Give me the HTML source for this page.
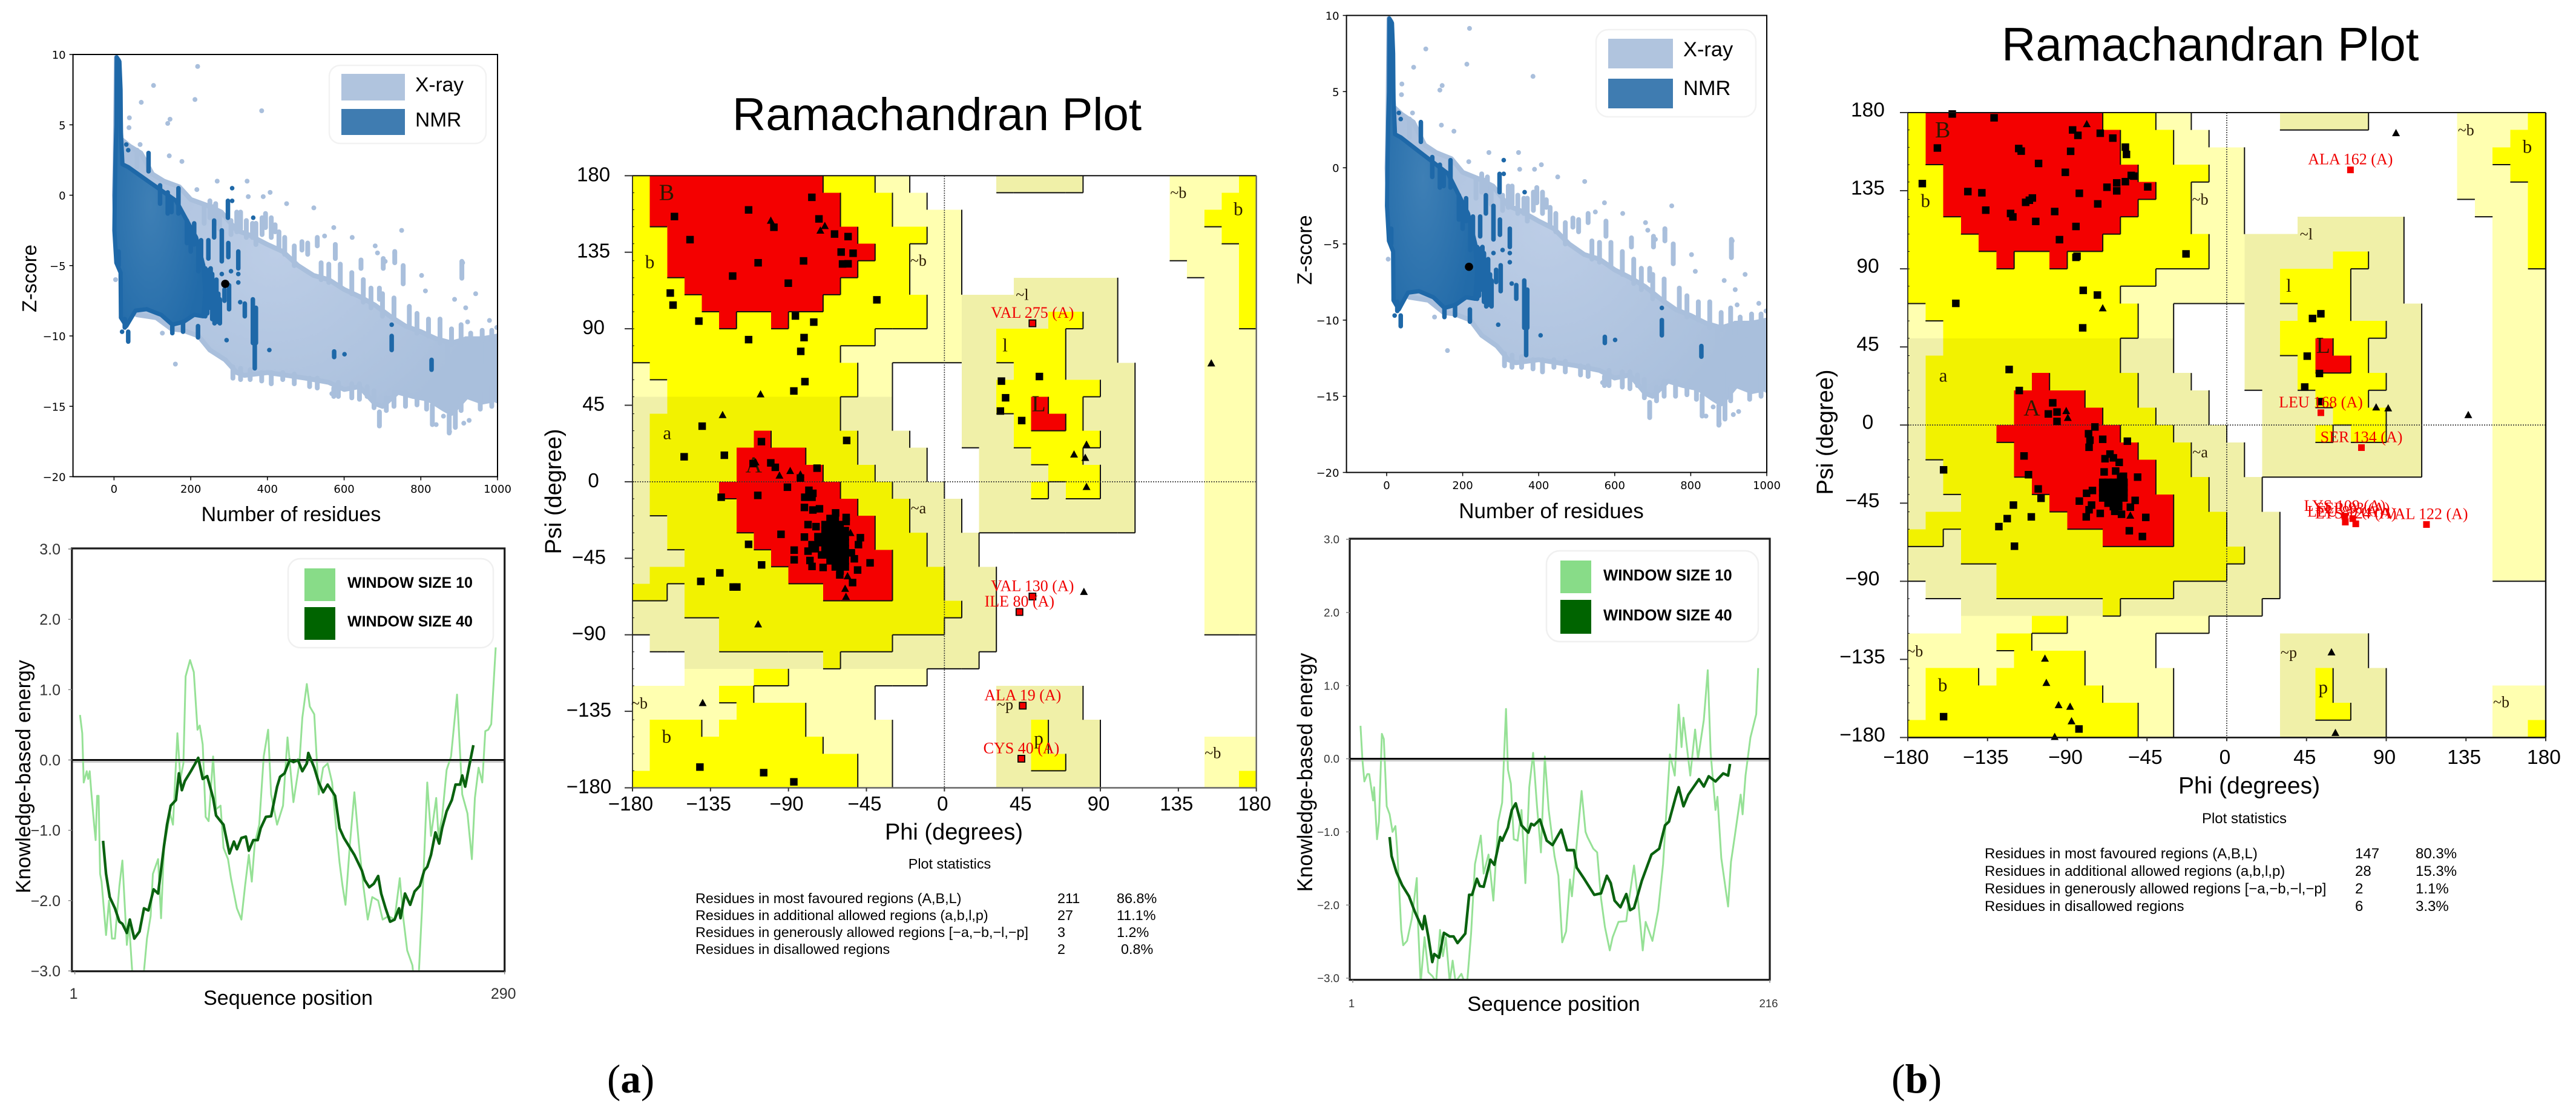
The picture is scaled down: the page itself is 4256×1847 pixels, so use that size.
<!DOCTYPE html>
<html lang="en">
<head>
<meta charset="utf-8">
<title>Z-score, energy and Ramachandran plots</title>
<style>
html,body{margin:0;padding:0;background:#fff;width:4256px;height:1847px;overflow:hidden}
svg{display:block}
text{font-family:"Liberation Sans",Arial,sans-serif;fill:#000}
.tick-dv{font-family:"DejaVu Sans",sans-serif;font-size:18px}
.serif{font-family:"Liberation Serif",serif}
.leg{font-weight:bold}
</style>
</head>
<body>
<svg id="figure" xmlns="http://www.w3.org/2000/svg" width="4256" height="1847" viewBox="0 0 4256 1847">
  <rect width="4256" height="1847" fill="#fff"/>

  <g id="scatterA"></g>
  <text x="481" y="861" font-size="34" text-anchor="middle">Number of residues</text>
  <text transform="translate(60 460) rotate(-90)" font-size="33" text-anchor="middle">Z-score</text>
  <g>
    <rect x="544" y="108" width="259" height="129" rx="18" fill="#fff" stroke="#f2f2f2" stroke-width="2.5"/>
    <rect x="564" y="122" width="105" height="44" fill="#b0c4de"/>
    <rect x="564" y="180" width="105" height="43" fill="#3f7cb1"/>
    <text x="686" y="151" font-size="33.5">X-ray</text>
    <text x="686" y="209" font-size="33.5">NMR</text>
  </g>

  <g id="energyA"></g>
  <text x="476" y="1660" font-size="34" text-anchor="middle">Sequence position</text>
  <text transform="translate(50 1283) rotate(-90)" font-size="34" text-anchor="middle">Knowledge-based energy</text>
  <g>
    <rect x="476" y="923" width="339" height="147" rx="20" fill="#fff" stroke="#f0f0f0" stroke-width="2.5"/>
    <rect x="503" y="939" width="51" height="54" fill="#88dc88"/>
    <rect x="503" y="1003" width="51" height="54" fill="#006400"/>
    <text class="leg" x="574" y="971" font-size="25">WINDOW SIZE 10</text>
    <text class="leg" x="574" y="1035" font-size="25">WINDOW SIZE 40</text>
  </g>

  <text x="1210" y="215" font-size="76.5">Ramachandran Plot</text>
  <g id="ramaA"></g>
  <text x="1576" y="1387" font-size="38" text-anchor="middle">Phi (degrees)</text>
  <text transform="translate(927 812) rotate(-90)" font-size="38" text-anchor="middle">Psi (degree)</text>
  <g>
    <text x="1569" y="1435" font-size="23.4" text-anchor="middle">Plot statistics</text>
    <text x="1149" y="1492" font-size="23.4">Residues in most favoured regions (A,B,L)</text>
    <text x="1747" y="1492" font-size="23.4">211</text>
    <text x="1845" y="1492" font-size="23.4">86.8%</text>
    <text x="1149" y="1520" font-size="23.4">Residues in additional allowed regions (a,b,l,p)</text>
    <text x="1747" y="1520" font-size="23.4">27</text>
    <text x="1845" y="1520" font-size="23.4">11.1%</text>
    <text x="1149" y="1548" font-size="23.4">Residues in generously allowed regions [−a,−b,−l,−p]</text>
    <text x="1747" y="1548" font-size="23.4">3</text>
    <text x="1845" y="1548" font-size="23.4">1.2%</text>
    <text x="1149" y="1576" font-size="23.4">Residues in disallowed regions</text>
    <text x="1747" y="1576" font-size="23.4">2</text>
    <text x="1852" y="1576" font-size="23.4">0.8%</text>
  </g>
  <text class="serif" x="1003" y="1805" font-size="67">(<tspan font-weight="bold">a</tspan>)</text>

  <g id="scatterB"></g>
  <text x="2563" y="856" font-size="35" text-anchor="middle">Number of residues</text>
  <text transform="translate(2167 413) rotate(-90)" font-size="34" text-anchor="middle">Z-score</text>
  <g>
    <rect x="2637" y="49" width="264" height="144" rx="20" fill="#fff" stroke="#f2f2f2" stroke-width="2.5"/>
    <rect x="2657" y="64" width="107" height="49" fill="#b0c4de"/>
    <rect x="2657" y="130" width="107" height="49" fill="#3f7cb1"/>
    <text x="2781" y="93" font-size="34.4">X-ray</text>
    <text x="2781" y="157" font-size="34.4">NMR</text>
  </g>

  <g id="energyB"></g>
  <text x="2567" y="1670" font-size="34.7" text-anchor="middle">Sequence position</text>
  <text transform="translate(2168 1276) rotate(-90)" font-size="34.8" text-anchor="middle">Knowledge-based energy</text>
  <g>
    <rect x="2555" y="910" width="350" height="150" rx="22" fill="#fff" stroke="#f0f0f0" stroke-width="2.5"/>
    <rect x="2578" y="926" width="51" height="54" fill="#88dc88"/>
    <rect x="2578" y="991" width="51" height="56" fill="#006400"/>
    <text class="leg" x="2649" y="959" font-size="25.7">WINDOW SIZE 10</text>
    <text class="leg" x="2649" y="1025" font-size="25.7">WINDOW SIZE 40</text>
  </g>

  <text x="3307" y="100" font-size="78">Ramachandran Plot</text>
  <g id="ramaB"></g>
  <text x="3716" y="1311" font-size="39" text-anchor="middle">Phi (degrees)</text>
  <text transform="translate(3028 714) rotate(-90)" font-size="38" text-anchor="middle">Psi (degree)</text>
  <g>
    <text x="3708" y="1360" font-size="24" text-anchor="middle">Plot statistics</text>
    <text x="3279" y="1418" font-size="24">Residues in most favoured regions (A,B,L)</text>
    <text x="3891" y="1418" font-size="24">147</text>
    <text x="3991" y="1418" font-size="24">80.3%</text>
    <text x="3279" y="1447" font-size="24">Residues in additional allowed regions (a,b,l,p)</text>
    <text x="3891" y="1447" font-size="24">28</text>
    <text x="3991" y="1447" font-size="24">15.3%</text>
    <text x="3279" y="1476" font-size="24">Residues in generously allowed regions [−a,−b,−l,−p]</text>
    <text x="3891" y="1476" font-size="24">2</text>
    <text x="3991" y="1476" font-size="24">1.1%</text>
    <text x="3279" y="1505" font-size="24">Residues in disallowed regions</text>
    <text x="3891" y="1505" font-size="24">6</text>
    <text x="3991" y="1505" font-size="24">3.3%</text>
  </g>
  <text class="serif" x="3125" y="1805" font-size="68">(<tspan font-weight="bold">b</tspan>)</text>
</svg>

<script>
/* ---------- Z-score scatter data (residues, z-score) ---------- */
const zXTicks = [0, 200, 400, 600, 800, 1000];
const zYTicks = [10, 5, 0, -5, -10, -15, -20];
const xrayUpperEdge = [[1,0],[3,2.5],[6,9.8],[12,9.6],[15,7],[18,4],[40,3.5],[70,3],[100,1.5],[130,1],[170,0.6],[200,-0.3],[240,-0.7],[280,-1.2],[320,-2.5],[350,-2.8],[400,-3.5],[440,-4],[480,-5],[520,-5.7],[560,-6],[600,-6.7],[640,-7.2],[680,-7.8],[720,-8.6],[760,-9.3],[800,-9.7],[840,-10.2],[880,-10.5],[920,-10.2],[960,-10.2],[1000,-10]];
const xrayLowerEdge = [[1000,-14.5],[960,-14.7],[920,-14.3],[880,-15.5],[860,-15.2],[820,-14.5],[780,-14.3],[740,-14],[700,-15],[680,-14.8],[640,-13.6],[600,-13.8],[560,-13.3],[500,-13],[450,-12.8],[400,-12.6],[340,-12.8],[320,-12.6],[290,-11.7],[250,-11],[220,-10],[180,-9.6],[150,-9.5],[110,-8.7],[60,-8.5],[30,-8],[18,-5],[6,-3.5],[1,0]];
const nmrUpperEdge = [[2,0],[4,3],[6,5],[7,9.8],[14,9.5],[17,7.5],[18,4.5],[22,2.2],[37,2],[85,1.07],[123,0.35],[162,-0.4],[190,-1.8],[214,-3],[233,-5],[238,-6.9]];
const nmrLowerEdge = [[233,-8.6],[209,-8.5],[181,-9],[152,-9.2],[123,-8.5],[85,-8.1],[56,-8.2],[32,-9.3],[18,-8.7],[17,-5.5],[6,-4.8],[1,-2.5],[2,0]];
const xrayStreaks = [[754,-5,-6.3],[692,-6.6,-7.4],[386,-1.6,-2.8],[305,-1.8,-2.8],[420,-2.1,-2.6],[577,-3.5,-4.5],[644,-4.6,-5.2],[702,-4.5,-5.2],[907,-4.7,-5.9],[692,-15.4,-16.4],[998,-10.2,-14.6],[898,-13.4,-14.9],[830,-14.9,-16.3],[874,-15.6,-16.9],[678,-13.9,-15.1],[620,-13.4,-14.4],[573,-13.7,-14.3],[917,-10.2,-11],[947,-10.4,-11],[970,-10.6,-12],[940,-12.5,-14],[870,-10.6,-13],[60,3.2,2],[235,-0.7,-2],[260,-0.8,-1.6],[330,-1.2,-2.4],[361,-2,-3],[530,-3,-3.6],[732,-4,-4.8],
[250,-0.4,-1.6],[265,-0.6,-2],[275,-1.2,-2.4],[320,-1.2,-2.6],[345,-1.8,-3],[370,-2,-3.5],[395,-1.3,-2.3],[410,-1.6,-3],[430,-2.6,-3.8],[445,-3,-4.2],[470,-3.6,-5],[490,-3.3,-3.9],[505,-3.4,-4.2],[540,-4.8,-6],[560,-4.9,-6.2],[590,-4.9,-6.5],[620,-5.5,-7],[650,-6,-7.6],[670,-6.6,-8],[700,-7,-8.6],[730,-7.3,-8.8],[770,-7.9,-9.4],[790,-8.4,-9.8],[820,-8.8,-10],[850,-8.8,-10.5],[880,-9.5,-10.6],[905,-9.2,-10.5],[930,-9.8,-10.5],[960,-9.6,-10.3],[985,-9.6,-10.4],
[310,-12.2,-13],[330,-12.3,-13.1],[355,-12.4,-13.1],[385,-12.6,-13.2],[410,-12.6,-13.4],[440,-12.6,-13.1],[470,-12.7,-13.4],[510,-13,-13.6],[530,-13,-13.7],[585,-13.3,-14.3],[640,-13.4,-14.5],[660,-13.6,-14.3],[710,-14.4,-15.3],[730,-14,-15],[760,-14,-15],[790,-14.2,-14.9],[815,-14.2,-15.2],[890,-15,-16.5],[905,-14.4,-15.3],[955,-14,-15.2],[985,-13.5,-15]];
const xrayPoints = [[218,9.15],[103,7.8],[211,6.8],[71,6.6],[385,6],[40,5.5],[146,5.4],[140,5.1],[39,4.8],[68,3.6],[144,2.8],[177,2.4],[269,1],[347,1],[407,0.2],[389,-0.1],[350,-0.1],[216,0.4],[450,-0.6],[521,-0.9],[573,-2.3],[621,-3],[750,-2.5],[549,-2.9],[681,-3.6],[687,-4.1],[732,-4.1],[707,-4.7],[909,-4.8],[943,-7],[802,-5.7],[812,-6.8],[888,-7.4],[917,-8],[979,-8.9],[922,-9],[998,-9.4],[160,-12],[912,-16.2],[926,-16],[875,-16.8],[859,-15.7],[840,-16.3],[568,-14.1],[126,-9.8],[4,-6]];
const nmrStreaks = [[90,3,1.7],[168,0.5,-1.3],[140,0.2,-1.3],[120,0.7,-0.6],[297,-0.4,-1.6],[261,-1.8,-3],[209,-2,-3.5],[281,-2.5,-4.7],[246,-3.2,-4.5],[227,-3.2,-5],[298,-3.4,-4.4],[324,-4,-5.2],[252,-5.2,-7.4],[267,-6,-9],[288,-6.7,-7.5],[300,-6.4,-8.1],[341,-7.7,-8.6],[362,-7.4,-10.5],[370,-8,-10.5],[367,-10.6,-12.3],[574,-11.1,-11.5],[724,-10,-11],[828,-11.7,-12.4],[219,-9.3,-10.1],[37,-9.7,-10.4],[12,-4,-5],
[238,-5.2,-8.6],[243,-5.4,-8.4],[248,-5.3,-8],[256,-5.6,-8.8],[262,-6.2,-9.1],[272,-7,-9],[276,-7.4,-9.1],[180,-9,-9.7],[152,-9.2,-9.8],[28,-8.8,-9.4],[190,-1.8,-3.4],[200,-2.6,-4],[150,-0.2,-1.2],[220,-3.4,-5.4]];
const nmrPoints = [[324,-6.2],[281,-5.6],[305,-5.4],[324,-5.6],[308,0.5],[308,-0.4],[363,-1.6],[329,-7.6],[405,-11],[601,-11.3],[724,-9.2],[293.5,-10.3],[21,-9.7],[32,3.6],[37,3.2]];
const queryScoreA = [290, -6.3];
const queryScoreB = [216.6, -6.5];

/* ---------- Knowledge-based energy data ([residue, energy]) ---------- */
const energyYTicks = [3, 2, 1, 0, -1, -2, -3];
const energyXTicksA = [1, 290];
const energyXTicksB = [1, 216];
const window10A = [[4.5,.64],[6,.38],[7,-.32],[9,-.16],[10,-.27],[11,-.16],[12,-.43],[14,-.92],[15,-1.14],[16,-.51],[17,-.51],[18,-1.62],[19,-1.73],[20.5,-2.11],[22,-2.49],[24,-2],[26,-2.54],[28,-2.54],[31,-1.79],[33,-1.43],[36,-2.63],[37.5,-2.33],[39.5,-2.98],[41.5,-3.6],[46,-3.6],[47.5,-3],[49.5,-2.54],[52,-2.22],[53.5,-1.62],[57,-1.41],[59,-2.25],[61,-1.25],[65,-.76],[67,-.92],[70,.38],[72,-.27],[74,-.05],[75.5,1.19],[78.5,1.42],[81,1.25],[83.5,.43],[85,.49],[87,.22],[89,-.81],[91,-.87],[94,.05],[96,-.7],[99,-.65],[101,-1.25],[104,-1.41],[106,-1.68],[110,-2.11],[113,-2.27],[115.5,-1.79],[118,-1.35],[120,-1.73],[122,-1.19],[125,-.92],[128,.05],[131,.43],[133,-.49],[137,-.92],[141,-.65],[144,.32],[148,-.6],[152,-.05],[154,.6],[157,1.08],[159,.76],[162,.65],[165,-.49],[168,-.11],[171,-.05],[174,-.32],[176,-.81],[179,-1.46],[181,-1.79],[183,-2.06],[186,-1.19],[189,-.46],[192,-1.19],[195,-1.79],[198,-2.27],[201,-1.95],[205,-2],[208,-2.27],[212,-2.22],[216,-2.27],[219.5,-1.68],[222,-2.27],[224.5,-2.71],[228,-2.92],[231,-3.6],[234.5,-2.11],[238,-.32],[240.5,-1.08],[244,-.54],[245.5,-1.08],[248,-.81],[251,-.14],[254,.05],[258,.93],[261.5,-.49],[265,-.76],[268,-1.41],[270,-.54],[272.5,-.11],[275,-.32],[277,.41],[279,.43],[281,.51],[284,1.6]];
const window40A = [[20,-1.15],[22,-1.62],[24.5,-1.95],[28,-2.11],[31,-2.3],[33,-2.33],[36,-2.46],[38,-2.27],[41,-2.54],[44.5,-2.44],[47.5,-2.11],[50.5,-2.14],[54,-1.84],[57,-1.9],[61,-1.22],[63,-.92],[65.5,-.65],[69,-.57],[71,-.19],[73,-.43],[75,-.3],[79,-.16],[82,-.05],[84,.03],[87,-.27],[90,-.23],[94,-.54],[96,-.79],[99,-.87],[101,-.92],[105,-1.33],[108,-1.16],[110,-1.27],[113,-1.11],[116,-1.09],[118,-1.29],[121,-1.14],[124,-1.14],[126,-.97],[129.5,-.81],[133,-.8],[137,-.38],[139,-.24],[142,-.19],[145.5,0],[148,-.03],[151,0],[154,-.16],[157,-.05],[158,.1],[162,-.11],[165,-.32],[168,-.46],[171,-.35],[176,-.51],[179,-.97],[182,-1.11],[189,-1.35],[194,-1.57],[196,-1.71],[199,-1.81],[202,-1.76],[205,-1.65],[207,-1.9],[210,-2.11],[213,-2.3],[216,-2.27],[219,-2.11],[220,-2.25],[223,-1.9],[226.5,-2.06],[229.5,-1.87],[233,-1.79],[236,-1.57],[238,-1.52],[240.5,-1.35],[243.5,-1.03],[246,-1.19],[248,-.97],[251,-.73],[254.5,-.57],[257,-.35],[260,-.35],[261.5,-.22],[263.5,-.38],[266.5,-.05],[269,.21]];
const window10B = [[5,.45],[6,-.02],[7,-.31],[8.5,-.21],[9.5,-.21],[11.5,-.57],[12,-.39],[13.5,-1.1],[14.5,-.86],[16,.34],[17,.27],[18.5,-.65],[20,-.76],[21.5,-1],[23,-.92],[24,-1.28],[26,-2.34],[27,-2.55],[29,-2.49],[31.5,-2.18],[34,-1.63],[34.5,-2.18],[36,-3.07],[38,-2.44],[40,-2.92],[42,-2.97],[44,-3.05],[46,-2.34],[47.5,-2.7],[49,-2.44],[51,-3.05],[52.5,-2.76],[54,-3.05],[57,-2.94],[58.5,-3.05],[60,-3.05],[62,-2.39],[64,-1.44],[67,-1.05],[68.5,-1.57],[71,-1.31],[73.5,-1.94],[76,-.86],[78,-.6],[80,.68],[81,-.15],[82.5,-.34],[84,-1.1],[86,-1.12],[88,-.7],[90,-1.7],[92,-.39],[94,.08],[96,-.65],[98,-1.28],[100,.03],[102,-.7],[105,-1.33],[107,-1.6],[109,-2.51],[111,-2.36],[113,-1.65],[114,-1.88],[119,-.44],[121,-1],[122,-1.07],[125,-1.23],[127,-1.28],[129,-1.91],[131,-2.3],[133.5,-2.62],[135,-2.44],[138,-2.23],[142,-2.22],[143.5,-1.91],[146,-1.46],[148,-1.91],[150.5,-2.62],[152,-2.23],[155.5,-2.49],[158.5,-2.07],[161,-1.44],[164.5,.06],[167,-.23],[169,.74],[170.5,.16],[171.5,.56],[175,-.23],[177.5,.4],[179,0],[182,.53],[184,1.21],[185.5,.08],[188,-.7],[189,-.52],[191,-1.36],[194.5,-2.02],[196,-1.41],[198,-1.05],[201,-.49],[202,-.76],[203.5,-.23],[206,.29],[209,.61],[210,1.24]];
const window40B = [[20,-1.07],[21,-1.33],[23.5,-1.55],[26.5,-1.73],[30,-1.88],[33,-2.09],[37,-2.33],[38,-2.15],[40,-2.44],[42,-2.78],[43,-2.67],[45.5,-2.72],[48,-2.38],[51,-2.43],[53,-2.43],[55,-2.52],[59,-2.39],[61,-1.86],[62.5,-1.86],[65,-1.64],[66.5,-1.74],[68.5,-1.75],[72,-1.38],[74,-1.45],[77,-1.07],[78,-1.12],[81,-.94],[83,-.7],[85,-.61],[88,-.91],[91.5,-1.01],[93,-.89],[94.5,-.91],[97.5,-.83],[101,-1.12],[104,-1.18],[108.5,-.97],[111.5,-1.25],[115,-1.25],[116.5,-1.49],[120.5,-1.65],[125.5,-1.86],[129,-1.84],[132,-1.6],[134,-1.7],[136,-1.94],[139,-2.03],[142,-1.85],[144,-2.07],[146,-2.04],[150,-1.67],[155,-1.31],[159,-1.23],[162,-.91],[164,-.86],[167.5,-.52],[169,-.39],[171.5,-.65],[174,-.49],[179.5,-.28],[182,-.38],[184.5,-.24],[188,-.31],[192,-.2],[194.5,-.23],[195.5,-.07]];

/* ---------- Ramachandran data ---------- */
const ramaTicks = [-180, -135, -90, -45, 0, 45, 90, 135, 180];
/* 10-degree region map, psi 180 at top, phi -180 at left.
   . disallowed, n generous (beta), m generous (alpha), y allowed (beta), z allowed (alpha), R most favoured */
const regionRows = [
"yRRRRRRRRRRyyynn.....mmmmm.....nnnny",
"yRRRRRRRRRRRyyynn..............nnnyy",
"yRRRRRRRRRRRyyynnnn............nnyyy",
"yyRRRRRRRRRRRyyyynn............nnnyy",
"yyRRRRRRRRRRRRyynnn............nnnny",
"yyRRRRRRRRRRRyyynnn.............nnny",
"yyyRRRRRRRRRyyyynnn...mmmmmm.....nny",
"yyyyRRRRRRRyyyyyynnmmmmmmmmm.....nny",
"yyyyyRyyRyyyyyyyynnmmmmmyymm.....nny",
"yyyyyyyyyyyyyynnnnnmmyyyymmm.....nnn",
"yyyyyyyyyyyynnnnnnnmmyyyymmm.....nnn",
"nyyyyyyyyyyyynn....mmmyyymmmm....nnn",
"nnyyyyyyyyyyynn....mmyyyyyymm....nnn",
"mmzzzzzzzzzzmmm....mmyyRyymmm....nnn",
"mzzzzzzzzzzzmmm....mmmyRRymmm....nnn",
"mzzzzzzRzzzzzmmm...mmmyyyyymm....nnn",
"mzzzzzRRRRzzzmmmm...mmmyyymmm....nnn",
"mzzzzzRRRRRzzzmmm...mmmmyyymm....nnn",
"mzzzzRRRRRRRzzzmmm..mmmymyymm....nnn",
"mzzzzzRRRRRRRzzzmmm.mmmmmmmmm....nnn",
"mmzzzzRRRRRRRRzzmmm.mmmmmmmmm....nnn",
"mmzzzzzRRRRRRRzzzmmm.............nnn",
"mmmzzzzzRRRRRRRzzmmm.............nnn",
"mzzzzzzzzRRRRRRzzzmmm............nnn",
"zzmzzzzzzzzRRRRzzzmmm............nnn",
"mmmzzzzzzzzzzzzzzzzmm............nnn",
"mmmmmzzzzzzzzzzzzzmmm............nnn",
".mmmmzzzzzzzzzzmmmmmm...............",
"...mmmmmmmmzmmmmmmmm................",
"...nnnnyynnnnnnnn...................",
"nnnnnyynnnnnnn.......mmmmm..........",
"nnnnnnyyyynnnn.......mmmmm..........",
"nyyynyyyyynnnnn......mmymmm.........",
"nyyyyyyyyyynnnn......mmymmm......nnn",
"nyyyyyyyyyyyynn......mmyymm......nnn",
"yyyyyyyyyyyyynn......mmmmmm......nny"
];
const regionLabels = ["B","b","~b","~b","b","~l","l","L","a","A","~a","~b","b","~p","p","~b"];
const regionLabelPhi = [-160.3,-170,-15,135,169.6,44.9,35,54.4,-160,-110,-15,-176,-160.3,35,54.4,154.9];
const regionLabelPsi = [165.7,125.6,127,167,156.8,107,76.7,41.5,25,5.5,-18.5,-133.3,-153.4,-134,-154.6,-162.6];

const squaresA = [[-76.5,167.3],[-113,159.9],[-155.8,156],[-72.4,154.6],[-98.4,149.7],[-146.8,142.4],[-63.4,145.7],[-55.6,144.2],[-59.6,135.1],[-52.7,134.4],[-107.5,128.8],[-81.3,129.9],[-58.8,128.1],[-55.6,128.2],[-122.2,121],[-90.1,116.8],[-158.2,111],[-156.6,103.9],[-39,107],[-86,97.5],[-141.7,94.5],[-75.4,93.9],[-113,83.6],[-81,84.8],[-82.9,76.7],[-80.5,58.9],[-86.9,53.4],[-139.8,32.7],[-105.6,23.6],[-56.4,24.3],[-150.2,14.7],[-127,15.6],[-110.4,10.7],[-100.2,11.1],[-97.6,8.5],[-73.5,8],[-83.1,2.2],[-128.8,-9.1],[-107.7,-8],
[-90.6,-3.2],[-78.2,-5],[-75.9,-6.8],[-80.6,-9.1],[-76.4,-9.1],[-80.8,-15.1],[-75.9,-16.6],[-72.1,-15.9],[-62.8,-18.3],[-56.7,-21],[-56.7,-23.4],[-78.7,-25.2],[-74.1,-26.4],[-94.3,-30.9],[-80.8,-32.5],[-86.7,-40.2],[-86.7,-45.9],[-105.5,-48.9],[-78.7,-40.8],[-77.6,-46.3],[-76.4,-49.8],[-70,-50.4],[-42.9,-47.7],[-50.1,-51.9],[-60.4,-54.8],[-53,-59.3],[-48.5,-32.9],[-49.6,-37],[-52,-45.3],[-53.7,-41.8],[-113,-36.8],
[-129.6,-53.6],[-140.6,-58.6],[-121.9,-61.9],[-119.8,-61.9],
[-68.9,-25.2],[-66,-21.6],[-66,-25.2],[-66,-28.7],[-63,-21.6],[-63,-25.2],[-63,-28.7],[-60.2,-25.2],[-60.2,-28.7],[-57.2,-28.7],
[-68.9,-28.7],[-68.9,-32.3],[-66,-32.3],[-63,-32.3],[-60.2,-32.3],[-57.2,-32.3],[-68.9,-35.8],[-66,-35.8],[-63,-35.8],[-60.2,-35.8],[-57.2,-35.8],[-68.9,-39.4],[-66,-39.4],[-63,-39.4],[-60.2,-39.4],[-57.2,-39.4],[-68.9,-43],[-66,-43],[-63,-43],[-60.2,-43],[-57.2,-43],[-66,-46.5],[-63,-46.5],[-60.2,-46.5],[-57.2,-46.5],[-63,-50.1],[-60.2,-50.1],[-57.2,-50.1],[-60.2,-52.5],[-72.9,-35.8],[-76.4,-37],[-70.9,-43],[-74.5,-39.4],[-73,-32.3],
[32.9,59.2],[54.8,61.9],[35.3,49.4],[32.3,41.6],[44.6,36],[-141.1,-167.8],[-104.3,-171.1],[-86.9,-176.5]];
const trianglesA = [[-100.2,153.7],[-69,150.6],[-71.6,147.9],[-106.1,51.6],[-128,39.4],[-109,11.6],[-89,6.5],[-95.2,3.8],[-83.1,4.4],[154,69.8],[82,22],[74.8,16.2],[81.3,14.2],[82,-2.9],[-54.2,-30],[-57.3,-62.8],[-56.8,-67.5],[-55.9,-55.4],[-107.5,-83.7],[80.5,-64.6],[-139.5,-130]];
const outlierNamesA = ["VAL 275 (A)","VAL 130 (A)","ILE 80 (A)","ALA 19 (A)","CYS 40 (A)"];
const outlierPhiA = [50.8,50.8,43.3,45.2,44.4];
const outlierPsiA = [93.2,-67.5,-76.6,-131.7,-162.9];

const squaresB = [[-154.9,179.2],[-131.3,177],[-87,170],[-84,166.9],[-71.4,168.1],[-64.3,165.3],[-163.3,159.6],[-117.4,159.3],[-116,157.8],[-88.1,157.7],[-57.2,160.1],[-56.6,155.9],[-106.2,150.7],[-91.1,145.6],[-171.8,139.1],[-53.9,143.8],[-52.5,143.4],[-62.1,139.5],[-57.2,140.2],[-67.6,137],[-62.1,134.9],[-44.6,137.2],[-146.1,134.5],[-138.2,133.8],[-83.2,133.5],[-113.5,128.3],[-109.7,130.8],[-111.4,129.5],[-72.8,127.4],[-136,123.8],[-97.1,123],[-122,121.9],[-120.7,119.9],[-107.8,117.3],[-85.1,114.4],[-94.4,106.8],[-84.5,97.2],[-85.1,96.6],[-23,98.6],[-81,77.6],[-73,74.9],[-152.9,70.1],[-81.3,56],[-122.8,32],[-117.1,19.9],[-98.2,12.8],[-100.7,6.4],[-95.8,7.5],[-95.8,2.1],[53.1,64.1],[48.4,61.4],[45.4,39.7],[52.3,29.7],[44,21.9],[52.8,13.5],
[-74.4,-1.1],[-78,-5],[-70,-8.2],[-77.2,-8.7],[-77.7,-12.8],[-56.1,-9.3],[-114.4,-17.8],[-65.9,-16.7],[-68.7,-19.4],[-64,-18.9],[-60.7,-21.5],[-159.8,-25.8],[-111.9,-28.6],[-69.2,-27],[-62.7,-26.5],[-50.3,-30],[-59.9,-30],[-58.3,-29.5],[-106.4,-36.8],[-104.8,-42.2],[-120.4,-46.1],[-123.9,-53.9],[-128.6,-58.5],[-110.3,-52.9],[-119.8,-69.8],[-83.2,-43.8],[-79.1,-39.3],[-75.8,-37.7],[-76.3,-46.1],[-77.7,-48.8],[-79.3,-52.9],[-71.4,-50.9],[-51.7,-43.4],[-54.4,-47.3],[-45.7,-53.2],[-55,-60.9],[-47.6,-64.2],[-59.4,-51.4],[-63.2,-49.7],
[-70,-33],[-67,-33],[-64,-33],[-61,-33],[-58,-33],[-70,-36],[-67,-36],[-64,-36],[-61,-36],[-58,-36],[-70,-39],[-67,-39],[-64,-39],[-61,-39],[-58,-39],[-70,-42],[-67,-42],[-64,-42],[-61,-42],[-58,-42],[-67,-45],[-64,-45],[-61,-45],[-64,-47],[-61,-47],
[-159.8,-168],[-83.4,-175.1]];
const trianglesB = [[-79,173.5],[95.5,168.3],[-70,67.4],[-90.6,8.2],[-89.7,4.3],[84.3,10.3],[91.1,9.8],[136.3,5.9],[-54.4,-52],[-102.6,-134.4],[-101.8,-148.4],[-94.9,-161.2],[-88.4,-162.1],[-87.6,-170.5],[-97.1,-179.5],[59.1,-130.8],[61.3,-177.2]];
const outlierNamesB = ["ALA 162 (A)","LEU 168 (A)","SER 134 (A)","LYS 109 (A)","LEU 89 (A)","SER 93 (A)","LYS 124 (A)","VAL 122 (A)"];
const outlierPhiB = [69.8,53.1,76,66.6,66.9,71.1,72.8,112.7];
const outlierPsiB = [147,7.1,-13,-52.5,-55.9,-53.9,-56.9,-57.3];

/* ---------- helpers ---------- */
const SVGNS = 'http://www.w3.org/2000/svg';
function mk(tag, parent, attrs, txt) {
  const e = document.createElementNS(SVGNS, tag);
  for (const k in attrs) e.setAttribute(k, attrs[k]);
  if (txt !== undefined) e.textContent = txt;
  parent.appendChild(e);
  return e;
}
function minus(s) { return String(s).replace('-', '\u2212'); }
let clipCount = 0;
function addClip(parent, x, y, w, h) {
  const id = 'clip' + (++clipCount);
  const c = mk('clipPath', parent, {id: id});
  mk('rect', c, {x: x, y: y, width: w, height: h});
  return 'url(#' + id + ')';
}

/* ---------- Z-score panel ---------- */
function drawScatter(root, g, query) {
  const sx = v => g.x0 + (g.x1000 - g.x0) * v / 1000;
  const sy = v => g.top + (g.bottom - g.top) * (10 - v) / 30;
  const defs = mk('defs', root, {});
  const gradX = mk('radialGradient', defs, {id: g.id + 'X', cx: '.42', cy: '.55', r: '.55'});
  mk('stop', gradX, {offset: '0', 'stop-color': '#bccde6'});
  mk('stop', gradX, {offset: '1', 'stop-color': '#a9bfdc'});
  const gradN = mk('radialGradient', defs, {id: g.id + 'N', cx: '.4', cy: '.55', r: '.6'});
  mk('stop', gradN, {offset: '0', 'stop-color': '#3e7fb5'});
  mk('stop', gradN, {offset: '1', 'stop-color': '#226ba9'});
  const clip = addClip(defs, g.left, g.top, g.right - g.left, g.bottom - g.top);
  const plot = mk('g', root, {'clip-path': clip});

  const edgeToPts = arr => arr.map(p => sx(p[0]).toFixed(1) + ',' + sy(p[1]).toFixed(1)).join(' ');
  const xrayArea = mk('polygon', plot, {points: edgeToPts(xrayUpperEdge.concat(xrayLowerEdge)), fill: 'url(#' + g.id + 'X)', stroke: '#a9bfdc', 'stroke-width': 8, 'stroke-linejoin': 'round'});
  
  
  xrayStreaks.forEach(s => {
    const l = mk('line', plot, {x1: sx(s[0]), x2: sx(s[0]), y1: sy(s[1]), y2: sy(s[2]), stroke: '#a9bfdc', 'stroke-width': 8, 'stroke-linecap': 'round'});
    
    
  });
  xrayPoints.forEach(p => {
    const c = mk('circle', plot, {cx: sx(p[0]), cy: sy(p[1]), r: 4, fill: '#a9bfdc'});
    
    
  });
  const nmrArea = mk('polygon', plot, {points: edgeToPts(nmrUpperEdge.concat(nmrLowerEdge)), fill: 'url(#' + g.id + 'N)', stroke: '#1e68a8', 'stroke-width': 7, 'stroke-linejoin': 'round'});
  
  
  nmrStreaks.forEach(s => {
    const l = mk('line', plot, {x1: sx(s[0]), x2: sx(s[0]), y1: sy(s[1]), y2: sy(s[2]), stroke: '#1e68a8', 'stroke-width': 7.5, 'stroke-linecap': 'round'});
    
    
  });
  nmrPoints.forEach(p => {
    const c = mk('circle', plot, {cx: sx(p[0]), cy: sy(p[1]), r: 3.8, fill: '#1e68a8'});
    
    
  });
  const dot = mk('circle', plot, {cx: sx(query[0]), cy: sy(query[1]), r: 6.8, fill: '#000'});
  
  

  const frame = mk('rect', root, {x: g.left, y: g.top, width: g.right - g.left, height: g.bottom - g.top, fill: 'none', stroke: '#000', 'stroke-width': 2});
  
  
  zXTicks.forEach(v => {
    const t = mk('line', root, {x1: sx(v), x2: sx(v), y1: g.bottom, y2: g.bottom + 6, stroke: '#000', 'stroke-width': 1.5});
    
    
    const l = mk('text', root, {x: sx(v), y: g.xLabelY, 'text-anchor': 'middle', class: 'tick-dv'}, minus(v));
    
    
  });
  zYTicks.forEach(v => {
    const t = mk('line', root, {x1: g.left - 6, x2: g.left, y1: sy(v), y2: sy(v), stroke: '#000', 'stroke-width': 1.5});
    
    
    const l = mk('text', root, {x: g.left - 12, y: sy(v) + 7, 'text-anchor': 'end', class: 'tick-dv'}, minus(v));
    
    
  });
}

/* ---------- Energy panel ---------- */
function drawEnergy(root, g, w10, w40, xTicks) {
  const sx = r => g.x1 + (g.xN - g.x1) * (r - 1) / (xTicks[1] - 1);
  const sy = v => g.y3 + (g.yM3 - g.y3) * (3 - v) / 6;
  const defs = mk('defs', root, {});
  const clip = addClip(defs, g.left, g.top, g.right - g.left, g.bottom - g.top);
  const plot = mk('g', root, {'clip-path': clip});
  const shadow = mk('line', plot, {x1: g.left, x2: g.right, y1: sy(0) + 3, y2: sy(0) + 3, stroke: '#c8c8c8', 'stroke-width': 3});
  
  
  const pts = arr => arr.map(p => sx(p[0]).toFixed(1) + ',' + sy(p[1]).toFixed(1)).join(' ');
  const l10 = mk('polyline', plot, {points: pts(w10), fill: 'none', stroke: '#96e196', 'stroke-width': 3, 'stroke-linejoin': 'round'});
  
  
  const zero = mk('line', plot, {x1: g.left, x2: g.right, y1: sy(0), y2: sy(0), stroke: '#0a0a0a', 'stroke-width': 3});
  
  
  const l40 = mk('polyline', plot, {points: pts(w40), fill: 'none', stroke: '#0a620f', 'stroke-width': 4.4, 'stroke-linejoin': 'round'});
  
  
  const frame = mk('rect', root, {x: g.left, y: g.top, width: g.right - g.left, height: g.bottom - g.top, fill: 'none', stroke: '#1c1c1c', 'stroke-width': 3.2});
  
  
  energyYTicks.forEach(v => {
    const t = mk('line', root, {x1: g.left - 6, x2: g.left, y1: sy(v), y2: sy(v), stroke: '#888', 'stroke-width': 1.5});
    
    
    const l = mk('text', root, {x: g.labelRight, y: sy(v) + g.tickSize * 0.36, 'text-anchor': 'end', 'font-size': g.tickSize, style: 'fill:#333'}, minus(v.toFixed(1)));
    
    
  });
  xTicks.forEach(v => {
    const t = mk('line', root, {x1: sx(v), x2: sx(v), y1: g.bottom, y2: g.bottom + 5, stroke: '#888', 'stroke-width': 1.5});
    
    
    const l = mk('text', root, {x: sx(v) - 2, y: g.xLabelY, 'text-anchor': 'middle', 'font-size': g.tickSize, style: 'fill:#333'}, v);
    
    
  });
}

/* ---------- Ramachandran panel ---------- */
const REGION_FILL = {n: '#ffffb0', m: '#f0f0a8', y: '#ffff00', z: '#f2f200', R: '#f40000'};
const REGION_RANK = {'.': 0, n: 1, m: 1, y: 2, z: 2, R: 3};
function drawRama(root, g, squares, triangles, names, phis, psis) {
  const sx = phi => g.left + (g.right - g.left) * (phi + 180) / 360;
  const sy = psi => g.top + (g.bottom - g.top) * (180 - psi) / 360;
  const cellW = (g.right - g.left) / 36, cellH = (g.bottom - g.top) / 36;
  const defs = mk('defs', root, {});
  const clip = addClip(defs, g.left - 8, g.top - 8, g.right - g.left + 16, g.bottom - g.top + 16);

  const cells = mk('g', root, {'shape-rendering': 'crispEdges'});
  
  
  let edgePath = '';
  regionRows.forEach((row, r) => {
    for (let c = 0; c < 36; c++) {
      const ch = row[c];
      const rank = REGION_RANK[ch];
      const phiL = -180 + c * 10, psiT = 180 - r * 10;
      const x = sx(phiL), y = sy(psiT);
      if (ch !== '.') {
        const cell = mk('rect', cells, {x: x.toFixed(2), y: y.toFixed(2), width: (cellW + .6).toFixed(2), height: (cellH + .6).toFixed(2), fill: REGION_FILL[ch]});
        
        
      }
      if (c < 35 && rank > REGION_RANK[row[c + 1]]) {
        edgePath += 'M' + (x + cellW).toFixed(1) + ' ' + y.toFixed(1) + 'v' + cellH.toFixed(1);
      }
      if (r < 35 && rank > REGION_RANK[regionRows[r + 1][c]]) {
        edgePath += 'M' + x.toFixed(1) + ' ' + (y + cellH).toFixed(1) + 'h' + cellW.toFixed(1);
      }
    }
  });
  const edges = mk('path', root, {d: edgePath, fill: 'none', stroke: '#111', 'stroke-width': 2});
  
  

  const zv = mk('line', root, {x1: sx(0), x2: sx(0), y1: g.top, y2: g.bottom, stroke: '#333', 'stroke-width': 1.6, 'stroke-dasharray': '2 2'});
  
  
  const zh = mk('line', root, {x1: g.left, x2: g.right, y1: sy(0), y2: sy(0), stroke: '#333', 'stroke-width': 1.6, 'stroke-dasharray': '2 2'});
  
  

  regionLabels.forEach((txt, i) => {
    const big = txt === 'A' || txt === 'B' || txt === 'L';
    const size = big ? 38 : (txt.length > 1 ? 26 : 31);
    const l = mk('text', root, {x: sx(regionLabelPhi[i]), y: sy(regionLabelPsi[i]), 'text-anchor': 'middle', 'font-size': size, class: 'serif', style: 'fill:#2a1a00'}, txt);
    
    
  });

  const marks = mk('g', root, {'clip-path': clip});
  squares.forEach(p => {
    const s = mk('rect', marks, {x: sx(p[0]) - 6.2, y: sy(p[1]) - 6.2, width: 12.4, height: 12.4, fill: '#000'});
    
    
  });
  triangles.forEach(p => {
    const x = sx(p[0]), y = sy(p[1]);
    const t = mk('polygon', marks, {points: (x - 6.5) + ',' + (y + 5.5) + ' ' + (x + 6.5) + ',' + (y + 5.5) + ' ' + x + ',' + (y - 6.5), fill: '#000'});
    
    
  });
  names.forEach((n, i) => {
    const x = sx(phis[i]), y = sy(psis[i]);
    const s = mk('rect', marks, {x: x - 5.5, y: y - 5.5, width: 11, height: 11, fill: '#f40000', stroke: '#000', 'stroke-width': g.outlierStroke});
    
    
    const l = mk('text', root, {x: x, y: y - 9, 'text-anchor': 'middle', 'font-size': 26, class: 'serif', style: 'fill:#f00000'}, n);
    
    
  });

  const lines = [
    ['top-axis', g.left, g.top, g.right, g.top, '#111', 2],
    ['left-axis', g.left, g.top, g.left, g.bottom, '#111', 1.6],
    ['right-axis', g.right, g.top, g.right, g.bottom, g.rightColor, 2.4],
    ['bottom-axis', g.left, g.bottom, g.right, g.bottom, g.rightColor, 2.6]
  ];
  lines.forEach(a => {
    const ax = mk('line', root, {x1: a[1], y1: a[2], x2: a[3], y2: a[4], stroke: a[5], 'stroke-width': a[6]});
    
    
  });
  for (let psi = -170; psi < 180; psi += 10) {
    const m = mk('line', root, {x1: g.left, x2: g.left + 3, y1: sy(psi), y2: sy(psi), stroke: '#111', 'stroke-width': 1});
    
    
  }
  ramaTicks.forEach(v => {
    const ty = mk('line', root, {x1: g.left - 13, x2: g.left, y1: sy(v), y2: sy(v), stroke: '#333', 'stroke-width': 2});
    
    
    const tx = mk('line', root, {x1: sx(v), x2: sx(v), y1: g.bottom, y2: g.bottom + 6, stroke: '#333', 'stroke-width': 2});
    
    
    const ly = mk('text', root, {x: v < 0 ? g.yLabelXNeg : g.yLabelX, y: sy(v) + g.yLabelDy, 'text-anchor': 'middle', 'font-size': g.tickSize}, minus(v));
    
    
    const lx = mk('text', root, {x: sx(v) - 3, y: g.xLabelY, 'text-anchor': 'middle', 'font-size': g.tickSize}, minus(v));
    
    
  });
}

/* ---------- render all panels ---------- */
drawScatter(document.getElementById('scatterA'),
  {id: 'za', left: 120.6, right: 822, top: 90, bottom: 787.5, x0: 188.4, x1000: 822, xLabelY: 814}, queryScoreA);
drawScatter(document.getElementById('scatterB'),
  {id: 'zb', left: 2224.6, right: 2919, top: 25.5, bottom: 780.5, x0: 2291, x1000: 2919, xLabelY: 808}, queryScoreB);
drawEnergy(document.getElementById('energyA'),
  {left: 118.8, right: 833.7, top: 906, bottom: 1604.6, x1: 123.6, xN: 833.7, y3: 907, yM3: 1604, labelRight: 100, tickSize: 25, xLabelY: 1650}, window10A, window40A, energyXTicksA);
drawEnergy(document.getElementById('energyB'),
  {left: 2230, right: 2924, top: 890, bottom: 1618.7, x1: 2235, xN: 2924, y3: 891, yM3: 1616, labelRight: 2213, tickSize: 18.6, xLabelY: 1664}, window10B, window40B, energyXTicksB);
drawRama(document.getElementById('ramaA'),
  {left: 1045, right: 2075.7, top: 290.3, bottom: 1301.5, rightColor: '#666', outlierStroke: 1.8,
   yLabelX: 980.6, yLabelXNeg: 973, yLabelDy: 9, xLabelY: 1339, tickSize: 33}, squaresA, trianglesA, outlierNamesA, outlierPhiA, outlierPsiA);
drawRama(document.getElementById('ramaB'),
  {left: 3152, right: 4206, top: 186, bottom: 1218.4, rightColor: '#111', outlierStroke: 0,
   yLabelX: 3086, yLabelXNeg: 3077, yLabelDy: 6.5, xLabelY: 1262, tickSize: 33.5}, squaresB, trianglesB, outlierNamesB, outlierPhiB, outlierPsiB);
</script>
</body>
</html>
